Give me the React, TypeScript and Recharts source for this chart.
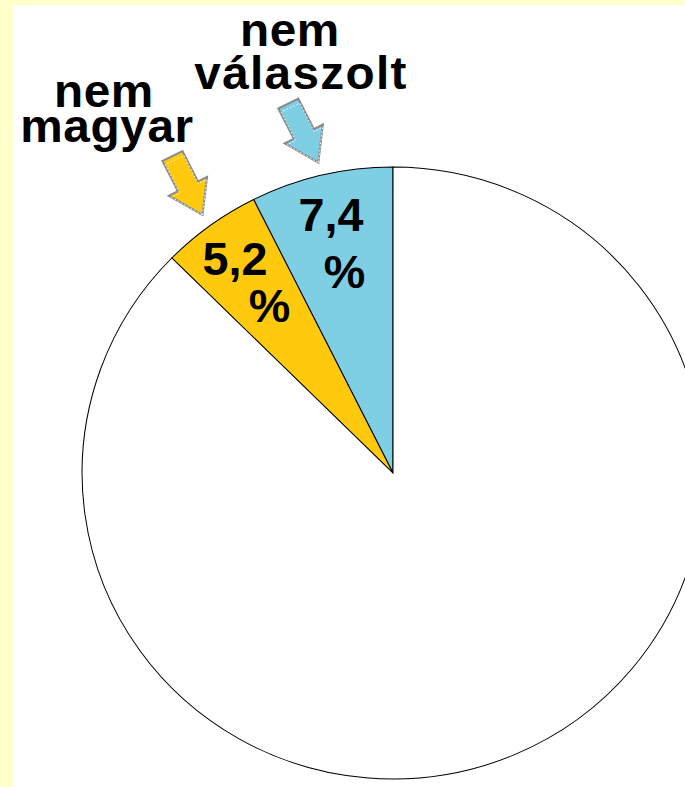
import { PieChart, Pie, Cell } from "recharts"

// kategóriák és értékek (%)
const categories = ["nem válaszolt", "nem magyar", "magyar"]
const values = [7.4, 5.2, 87.4]
const valueLabels = ["7,4", "5,2", ""]
const calloutLines = [["nem", "válaszolt"], ["nem", "magyar"], []]

const COLORS = ["#7ECEE4", "#FFC90E", "#FFFFFF"]
const RAD = Math.PI / 180
const FONT = "'Liberation Sans', Arial, sans-serif"

// feliratsorok helye a nyíl hegyéhez képest
const calloutOffset = [
  [{ dx: -28, dy: -117, ls: 0.6 }, { dx: -17, dy: -74, ls: 1.3 }],
  [{ dx: -97, dy: -108, ls: 0.6 }, { dx: -94, dy: -73, ls: 0.6 }],
]

const data = categories.map((name, i) => ({ name, value: values[i] }))

function Arrow({ x, y, fill }: { x: number; y: number; fill: string }) {
  // nyíl hegye (x, y), iránya 63°
  const L = 66, head = 32, sw = 11, hw = 21
  const pts = [
    [0, 0], [-head, -hw], [-head, -sw], [-L, -sw], [-L, sw], [-head, sw], [-head, hw],
  ].map((p) => p.join(",")).join(" ")
  return (
    <g transform={`translate(${x},${y}) rotate(63.4)`}>
      <polygon points={pts} fill={fill} stroke="#8a8a8a" strokeWidth={2} strokeLinejoin="miter" />
      <polygon points={pts} fill="none" stroke="#ffffff" strokeWidth={0.8} strokeDasharray="2 2"
        transform="scale(0.93)" />
    </g>
  )
}

function renderLabel(props: any) {
  const { cx, cy, midAngle, outerRadius, index } = props
  if (!valueLabels[index]) return null
  const cos = Math.cos(-midAngle * RAD)
  const sin = Math.sin(-midAngle * RAD)
  const at = (r: number) => ({ x: cx + r * cos, y: cy + r * sin })
  const v = at(outerRadius * 0.865)
  const p = at(outerRadius * 0.675)
  const tip = at(outerRadius + 13)
  const lines = calloutLines[index]
  return (
    <g>
      <text x={v.x} y={v.y} textAnchor="middle" dominantBaseline="central"
        fontFamily={FONT} fontWeight="bold" fontSize={46} fill="#000">
        {valueLabels[index]}
      </text>
      <text x={p.x} y={p.y} textAnchor="middle" dominantBaseline="central"
        fontFamily={FONT} fontWeight="bold" fontSize={46} fill="#000">
        %
      </text>
      <Arrow x={tip.x} y={tip.y} fill={COLORS[index]} />
      <text textAnchor="middle" fontFamily={FONT} fontWeight="bold" fontSize={47} fill="#000">
        {lines.map((line, j) => {
          const o = calloutOffset[index][j]
          return (
            <tspan key={j} x={tip.x + o.dx} y={tip.y + o.dy} letterSpacing={o.ls}>{line}</tspan>
          )
        })}
      </text>
    </g>
  )
}

export default function App() {
  return (
    <div style={{ position: "absolute", left: 0, top: 0, width: 685, height: 787, background: "#FFFFCC", overflow: "hidden" }}>
      <div style={{ position: "absolute", left: 13, top: 5, right: 0, bottom: 0, background: "#fff" }} />
      <div style={{ position: "absolute", left: 0, top: 0, transform: "scaleX(1.016)", transformOrigin: "393px 0" }}>
        <PieChart width={685} height={787} margin={{ top: 0, right: 0, bottom: 0, left: 0 }}>
          <Pie
            data={data}
            dataKey="value"
            nameKey="name"
            cx={393}
            cy={473}
            outerRadius={306}
            startAngle={90}
            endAngle={450}
            stroke="#000"
            strokeWidth={1}
            label={renderLabel}
            labelLine={false}
            isAnimationActive={false}
          >
            {data.map((d, i) => (
              <Cell key={d.name} fill={COLORS[i]} />
            ))}
          </Pie>
        </PieChart>
      </div>
    </div>
  )
}
